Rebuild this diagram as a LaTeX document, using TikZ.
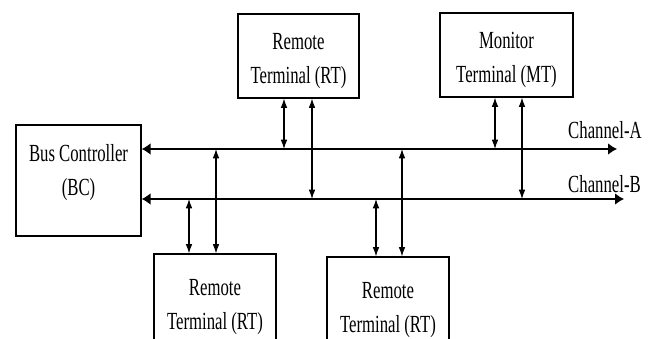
\documentclass[tikz,border=0pt]{standalone}
\usepackage{fontspec}
\setmainfont{Liberation Serif}
\usepackage{graphicx}
\usetikzlibrary{arrows.meta}

% narrow text, as in the printed figure
\newcommand{\squeezed}[1]{\scalebox{0.68}[1]{#1}}
\newcommand{\boxtext}[1]{\squeezed{\begin{tabular}{@{}c@{}}\rule{0pt}{26pt}#1\end{tabular}}}

\begin{document}
\begin{tikzpicture}[x=0.03cm, y=-0.03cm,
		font=\fontsize{21}{29}\selectfont,
		unit/.style={draw, line width=1pt, inner sep=0pt},
		bus/.style={{Latex[length=0.27cm,width=0.36cm]}-{Latex[length=0.27cm,width=0.36cm]}, line width=2pt},
		tap/.style={{Latex[length=0.28cm,width=0.2cm]}-{Latex[length=0.28cm,width=0.2cm]}, line width=0.9pt}]
		\useasboundingbox (0,0) rectangle (649,339);
		\clip (0,0) rectangle (649,339);
		
		% Bus controller
		\node[unit, minimum width=3.75cm, minimum height=3.33cm] (bc) at (78.5,180.5) {};
		\node (bctext) at (78.5,168) {\boxtext{Bus Controller\\(BC)}};
		
		% Terminals above the buses
		\node[unit, minimum width=3.63cm, minimum height=2.52cm] (rt1) at (298.5,56) {\boxtext{Remote\\Terminal (RT)}};
		\node[unit, minimum width=3.99cm, minimum height=2.52cm] (mt) at (506.5,55) {\boxtext{Monitor\\Terminal (MT)}};
		
		% Terminals below the buses
		\node[unit, minimum width=3.66cm, minimum height=2.88cm] (rt2) at (215,302) {\boxtext{Remote\\Terminal (RT)}};
		\node[unit, minimum width=3.66cm, minimum height=2.88cm] (rt3) at (388,305) {\boxtext{Remote\\Terminal (RT)}};
		
		% Channels
		\coordinate (aend) at (617,149);
		\coordinate (bend) at (624,199);
		\draw[bus] (bc.east |- aend) -- (aend);
		\draw[bus] (bc.east |- bend) -- (bend);
		\node[anchor=base west, inner sep=0pt] (alabel) at (568,138) {\squeezed{Channel-A}};
		\node[anchor=base west, inner sep=0pt] (blabel) at (568,192) {\squeezed{Channel-B}};
		
		% Stubs to channel A
		\coordinate (a1) at (284,149);
		\coordinate (a2) at (495,149);
		\coordinate (a3) at (216,149);
		\coordinate (a4) at (402,149);
		\draw[tap] (rt1.south -| a1) -- (a1);
		\draw[tap] (mt.south -| a2) -- (a2);
		\draw[tap] (rt2.north -| a3) -- (a3);
		\draw[tap] (rt3.north -| a4) -- (a4);
		
		% Stubs to channel B
		\coordinate (b1) at (312,199);
		\coordinate (b2) at (522,199);
		\coordinate (b3) at (189,199);
		\coordinate (b4) at (376,199);
		\draw[tap] (rt1.south -| b1) -- (b1);
		\draw[tap] (mt.south -| b2) -- (b2);
		\draw[tap] (rt2.north -| b3) -- (b3);
		\draw[tap] (rt3.north -| b4) -- (b4);
		
	\end{tikzpicture}
\end{document}
